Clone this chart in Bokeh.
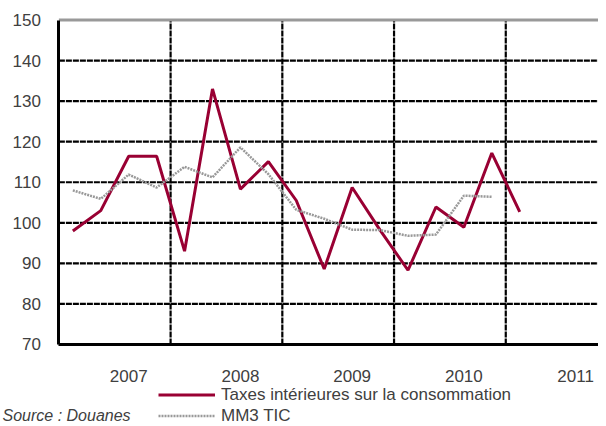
from bokeh.plotting import figure
from bokeh.models import FixedTicker, Legend, LegendItem, Label
from bokeh.embed import file_html
from bokeh.resources import INLINE

# Quarterly data (index 0 = first quarter shown)
tic = [98, 103, 116.4, 116.4, 93, 133, 108.3, 115.1, 105.5, 88.6, 108.7, 98.2, 88.3, 103.9, 98.9, 117.2, 102.7]
mm3 = [108, 105.9, 111.9, 108.7, 113.8, 111.2, 118.6, 112, 103.2, 101, 98.3, 98.2, 96.8, 97.1, 106.7, 106.4]
year_labels = ["2007", "2008", "2009", "2010", "2011"]
year_label_pos = [2.5, 6.5, 10.5, 14.5, 18.5]
year_bounds = [4, 8, 12, 16]
y_ticks = [70, 80, 90, 100, 110, 120, 130, 140, 150]

x_tic = [i + 0.5 for i in range(len(tic))]
x_mm3 = [i + 0.5 for i in range(len(mm3))]

FONT = "Liberation Sans"
TXT = "#404040"
Y_MIN, Y_MAX = y_ticks[0], y_ticks[-1]
X_START, X_END = -2.09, 19.32

# the frame covers the whole figure; axes are drawn at fixed positions inside it
p = figure(width=598, height=426, output_backend="svg", toolbar_location=None,
           x_range=(X_START, X_END), y_range=(49.78, 154.81),
           min_border_left=0, min_border_right=0, min_border_top=0, min_border_bottom=0)
p.outline_line_color = None
p.background_fill_color = "white"
p.border_fill_color = "white"
p.xgrid.visible = False
p.ygrid.visible = False

# y axis at x = 0
p.yaxis.fixed_location = 0
p.yaxis.ticker = FixedTicker(ticks=y_ticks)
p.yaxis.bounds = (Y_MIN, Y_MAX)
p.yaxis.axis_line_color = "black"
p.yaxis.axis_line_width = 3
p.yaxis.major_tick_line_color = None
p.yaxis.minor_tick_line_color = None
p.yaxis.major_label_text_font = FONT
p.yaxis.major_label_text_font_size = "17px"
p.yaxis.major_label_text_color = TXT
p.yaxis.major_label_standoff = 12

# x axis at y = 70
p.xaxis.fixed_location = Y_MIN
p.xaxis.bounds = (0, X_END)
p.xaxis.ticker = FixedTicker(ticks=year_label_pos)
p.xaxis.major_label_overrides = {pos: lab for pos, lab in zip(year_label_pos, year_labels)}
p.xaxis.axis_line_color = "black"
p.xaxis.axis_line_width = 3
p.xaxis.major_tick_line_color = None
p.xaxis.minor_tick_line_color = None
p.xaxis.major_label_text_font = FONT
p.xaxis.major_label_text_font_size = "17px"
p.xaxis.major_label_text_color = TXT
p.xaxis.major_label_standoff = 20

# gridlines (dashed black), bounded to the plot area
hy = y_ticks[1:-1]
p.segment(x0=[0] * len(hy), y0=hy, x1=[X_END] * len(hy), y1=hy,
          line_color="black", line_width=2.2, line_dash="6 1", level="underlay")
p.segment(x0=year_bounds, y0=[Y_MIN] * len(year_bounds), x1=year_bounds, y1=[Y_MAX] * len(year_bounds),
          line_color="black", line_width=2.2, line_dash="6 1", level="underlay")
# top border (grey)
p.segment(x0=[0], y0=[Y_MAX], x1=[X_END], y1=[Y_MAX], line_color="#999999", line_width=3)

r1 = p.line(x_tic, tic, line_color="#990033", line_width=3)
r2 = p.line(x_mm3, mm3, line_color="#999999", line_width=2.5, line_dash="2 1")

legend = Legend(items=[LegendItem(label="Taxes intérieures sur la consommation", renderers=[r1]),
                       LegendItem(label="MM3 TIC", renderers=[r2])],
                location=(158, 0), orientation="vertical",
                background_fill_alpha=0, border_line_color=None,
                padding=0, margin=0, spacing=0,
                glyph_width=57, glyph_height=21, label_height=21,
                label_standoff=6,
                label_text_font=FONT, label_text_font_size="17px", label_text_color=TXT)
p.add_layout(legend)

src = Label(x=2, y=20, x_units="screen", y_units="screen", text="Source : Douanes",
            text_font=FONT, text_font_size="16px", text_font_style="italic",
            text_color=TXT, text_baseline="top")
p.add_layout(src)

open("out.html", "w").write(file_html(p, INLINE))
